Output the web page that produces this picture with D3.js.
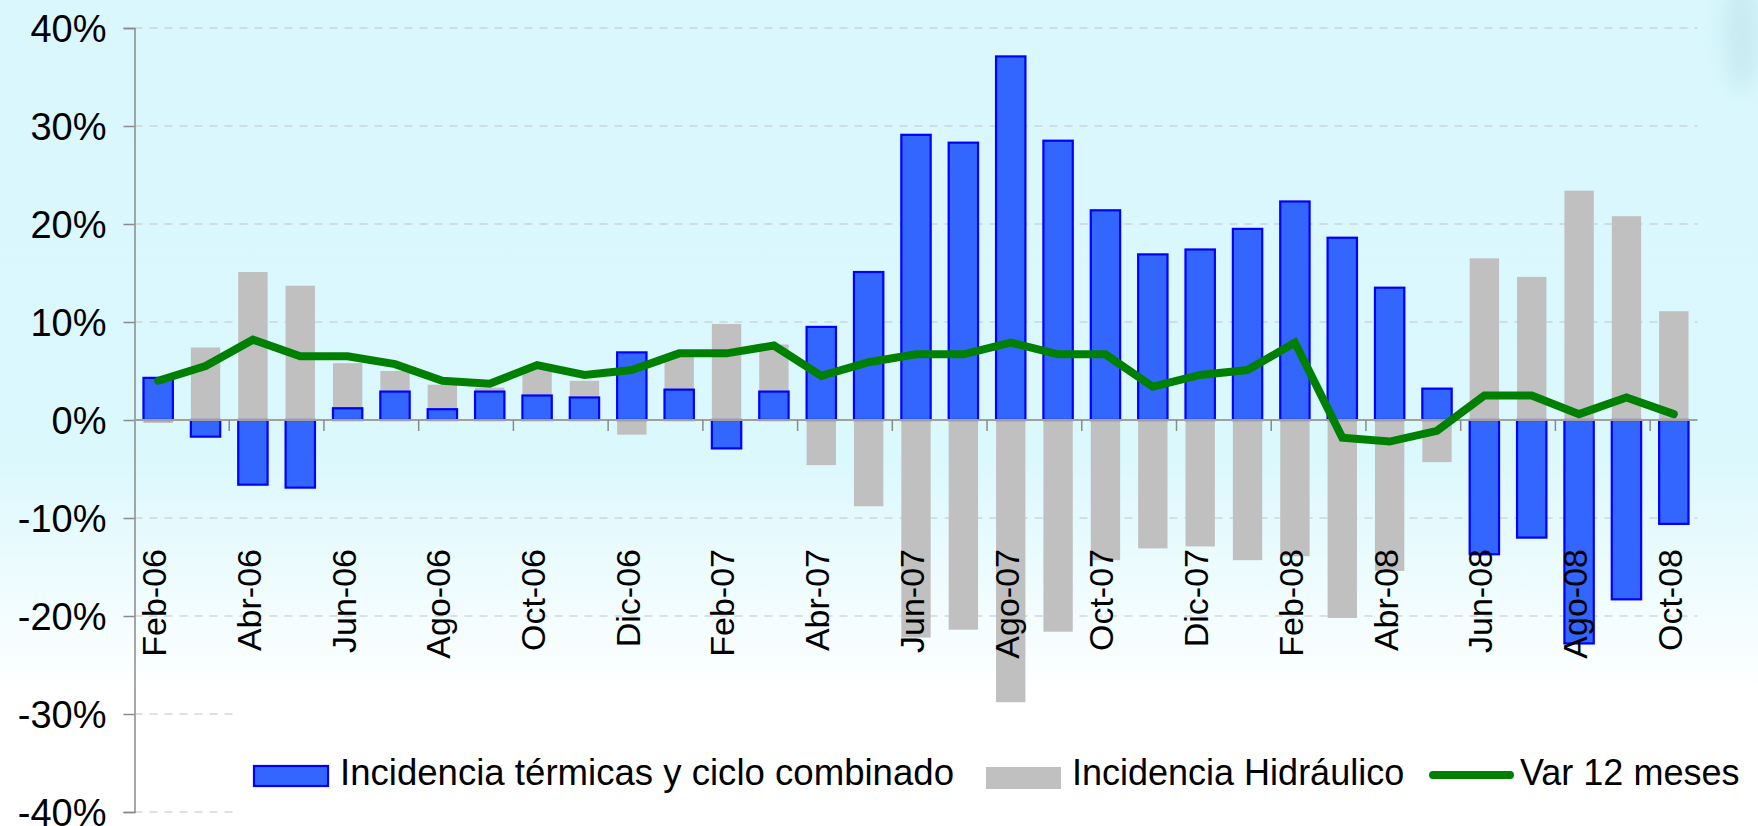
<!DOCTYPE html>
<html>
<head>
<meta charset="utf-8">
<script src="https://cdn.jsdelivr.net/npm/d3@7"></script>
<style>
  html, body { margin: 0; padding: 0; background: #fff; }
  svg { display: block; font-family: Arial, "Liberation Sans", sans-serif; }
</style>
</head>
<body>
<div id="chart"></div>
<script>
// months on the x axis
const months = ["Feb-06","Mar-06","Abr-06","May-06","Jun-06","Jul-06","Ago-06","Sep-06","Oct-06","Nov-06","Dic-06",
  "Ene-07","Feb-07","Mar-07","Abr-07","May-07","Jun-07","Jul-07","Ago-07","Sep-07","Oct-07","Nov-07","Dic-07",
  "Ene-08","Feb-08","Mar-08","Abr-08","May-08","Jun-08","Jul-08","Ago-08","Sep-08","Oct-08"];

// series values, in %
const termicas = [4.3, -1.7, -6.6, -6.9, 1.2, 2.9, 1.1, 2.9, 2.5, 2.3, 6.9,
  3.1, -2.9, 2.9, 9.5, 15.1, 29.1, 28.3, 37.1, 28.5, 21.4, 16.9, 17.4,
  19.5, 22.3, 18.6, 13.5, 3.2, -13.7, -12.0, -22.8, -18.3, -10.6];
const hidraulico = [-0.3, 7.4, 15.1, 13.7, 5.8, 5.0, 3.6, 3.3, 5.3, 4.0, -1.5,
  6.6, 9.8, 7.7, -4.6, -8.8, -22.2, -21.4, -28.8, -21.6, -14.3, -13.1, -12.9,
  -14.3, -13.9, -20.2, -15.4, -4.3, 16.5, 14.6, 23.4, 20.8, 11.1];
const var12 = [4.0, 5.5, 8.2, 6.5, 6.5, 5.7, 4.0, 3.7, 5.6, 4.6, 5.1,
  6.8, 6.8, 7.6, 4.5, 5.9, 6.7, 6.7, 7.9, 6.7, 6.7, 3.4, 4.6,
  5.1, 7.9, -1.8, -2.2, -1.1, 2.5, 2.5, 0.6, 2.3, 0.6];

const yTicks = [40, 30, 20, 10, 0, -10, -20, -30, -40];
const legendNames = ["Incidencia térmicas y ciclo combinado", "Incidencia Hidráulico", "Var 12 meses"];

const W = 1758, H = 826;
const svg = d3.select("#chart").append("svg").attr("width", W).attr("height", H);

// background
const defs = svg.append("defs");
const grad = defs.append("linearGradient").attr("id", "bg")
  .attr("gradientUnits", "userSpaceOnUse").attr("x1", 0).attr("y1", 0).attr("x2", 0).attr("y2", H);
grad.append("stop").attr("offset", "0").attr("stop-color", "#d9f7fd");
grad.append("stop").attr("offset", "0.55").attr("stop-color", "#dbf8fd");
grad.append("stop").attr("offset", "0.84").attr("stop-color", "#ffffff");
grad.append("stop").attr("offset", "1").attr("stop-color", "#ffffff");
defs.append("filter").attr("id", "blur")
  .attr("x", "-200%").attr("y", "-200%").attr("width", "500%").attr("height", "500%")
  .append("feGaussianBlur").attr("stdDeviation", 10);

svg.append("rect").attr("width", W).attr("height", H).attr("fill", "url(#bg)");
svg.append("ellipse").attr("cx", 1742).attr("cy", 35).attr("rx", 18).attr("ry", 55)
  .attr("fill", "#9fd0d4").attr("opacity", 0.3).attr("filter", "url(#blur)");

const x0 = 134.5, x1 = 1697.5;
const x = d3.scaleBand().domain(months).range([x0, x1]).paddingInner(0.38).paddingOuter(0.19);
const y = d3.scaleLinear().domain([-40, 40]).range([812, 28]);

// gridlines
svg.append("g").selectAll("line").data(yTicks.filter(d => d !== 0)).join("line")
  .attr("x1", x0).attr("x2", d => d <= -30 ? 236 : x1)
  .attr("y1", d => y(d)).attr("y2", d => y(d))
  .attr("stroke", "#c4c4c4").attr("stroke-width", 1.2).attr("stroke-dasharray", "8,7");

// bars: hydro behind, thermal in front
svg.append("g").selectAll("rect").data(hidraulico).join("rect")
  .attr("x", (d, i) => x(months[i]))
  .attr("width", x.bandwidth())
  .attr("y", d => y(Math.max(0, d)))
  .attr("height", d => Math.abs(y(d) - y(0)))
  .attr("fill", "#c0c0c0");

svg.append("g").selectAll("rect").data(termicas).join("rect")
  .attr("x", (d, i) => x(months[i]))
  .attr("width", x.bandwidth())
  .attr("y", d => y(Math.max(0, d)))
  .attr("height", d => Math.abs(y(d) - y(0)))
  .attr("fill", "#3366ff").attr("stroke", "#0000ff").attr("stroke-width", 2.2);

// y axis
const yAxis = svg.append("g").attr("transform", `translate(${x0},0)`)
  .call(d3.axisLeft(y).tickValues(yTicks).tickSize(11).tickPadding(17).tickFormat(d => d + "%"));
yAxis.select(".domain").attr("stroke", "#8a8a8a").attr("stroke-width", 1.5);
yAxis.selectAll(".tick line").attr("stroke", "#8a8a8a").attr("stroke-width", 1.5);
yAxis.selectAll(".tick text").attr("font-size", 38).attr("fill", "#000").attr("dy", "0.36em")
  .attr("font-family", "Arial, 'Liberation Sans', sans-serif");

// x axis (zero line)
const step = x.step();
const tickPos = d3.range(2, months.length, 2).map(i => x0 + i * step);
svg.append("line").attr("x1", x0).attr("x2", x1).attr("y1", y(0)).attr("y2", y(0))
  .attr("stroke", "#a0a0a0").attr("stroke-width", 2);
svg.append("g").selectAll("line").data(tickPos).join("line")
  .attr("x1", d => d).attr("x2", d => d).attr("y1", y(0)).attr("y2", y(0) + 11)
  .attr("stroke", "#8a8a8a").attr("stroke-width", 1.5);

// line series
const line = d3.line().x((d, i) => x(months[i]) + x.bandwidth() / 2).y(d => y(d));
svg.append("path").datum(var12).attr("d", line)
  .attr("fill", "none").attr("stroke", "#008000").attr("stroke-width", 8)
  .attr("stroke-linecap", "round").attr("stroke-linejoin", "miter");

// x labels, every second month
const labelMonths = months.filter((m, i) => i % 2 === 0);
svg.append("g").selectAll("text").data(labelMonths).join("text")
  .attr("transform", d => `translate(${x(d) + x.bandwidth() / 2 - 4},549) rotate(-90)`)
  .attr("text-anchor", "end").attr("dy", "0.35em")
  .attr("font-size", 34).attr("fill", "#000")
  .text(d => d);

// legend
const lg = svg.append("g");
lg.append("rect").attr("x", 254).attr("y", 766).attr("width", 74).attr("height", 20)
  .attr("fill", "#3366ff").attr("stroke", "#0000ff").attr("stroke-width", 2.2);
lg.append("text").attr("x", 340).attr("y", 785).attr("font-size", 36.6).text(legendNames[0]);
lg.append("rect").attr("x", 986).attr("y", 767).attr("width", 75).attr("height", 22)
  .attr("fill", "#c0c0c0");
lg.append("text").attr("x", 1072).attr("y", 785).attr("font-size", 36).text(legendNames[1]);
lg.append("line").attr("x1", 1433).attr("x2", 1510).attr("y1", 775).attr("y2", 775)
  .attr("stroke", "#008000").attr("stroke-width", 8).attr("stroke-linecap", "round");
lg.append("text").attr("x", 1520).attr("y", 785).attr("font-size", 36).text(legendNames[2]);
</script>
</body>
</html>
